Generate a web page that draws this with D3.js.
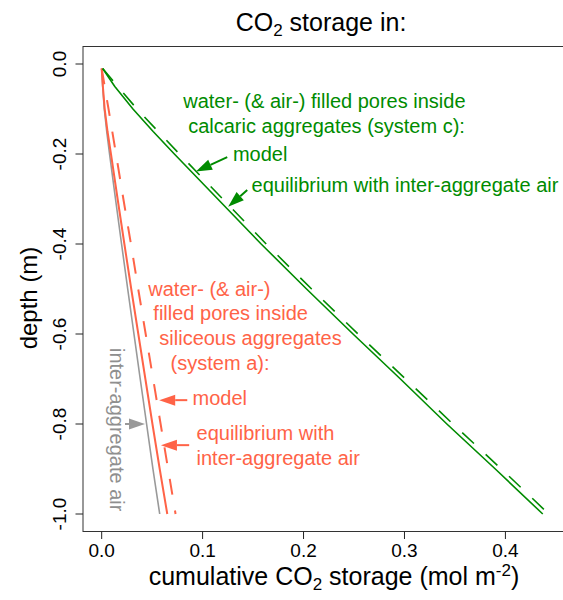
<!DOCTYPE html>
<html>
<head>
<meta charset="utf-8">
<script src="https://cdn.jsdelivr.net/npm/d3@7/dist/d3.min.js"></script>
<style>
  html, body { margin: 0; padding: 0; background: #fff; }
  svg { display: block; font-family: "Liberation Sans", Arial, Helvetica, sans-serif; }
</style>
</head>
<body>
<svg id="chart" width="563" height="600"></svg>
<script>
// ---- data ----
const depth        = [-0.01, -0.05, -0.1, -0.15, -0.2, -0.3, -0.4, -0.5, -0.6, -0.7, -0.8, -0.9, -1.0];
const calcModel    = [0.001, 0.013, 0.031, 0.051, 0.072, 0.115, 0.158, 0.203, 0.249, 0.296, 0.342, 0.390, 0.437];
const calcEquil    = [0.001, 0.016, 0.035, 0.056, 0.077, 0.120, 0.163, 0.208, 0.254, 0.301, 0.348, 0.396, 0.443];
const silModel     = [0.000, 0.0012, 0.0030, 0.0058, 0.0092, 0.0158, 0.0225, 0.0293, 0.0363, 0.0433, 0.0503, 0.0575, 0.0650];
const silEquil     = [0.000, 0.0030, 0.0068, 0.0105, 0.0142, 0.0215, 0.0290, 0.0362, 0.0436, 0.0510, 0.0584, 0.0658, 0.0732];
const interAir     = [0.000, 0.0010, 0.0026, 0.0050, 0.0078, 0.0137, 0.0197, 0.0258, 0.0320, 0.0382, 0.0445, 0.0508, 0.0575];
const xTicks       = [0.0, 0.1, 0.2, 0.3, 0.4];
const yTicks       = [0.0, -0.2, -0.4, -0.6, -0.8, -1.0];

const GREEN = "#008B00", ORANGE = "#FF6347", GRAY = "#999999";

const svg = d3.select("#chart");
const x = d3.scaleLinear().domain([-0.0185, 0.463]).range([83, 569]);
const y = d3.scaleLinear().domain([0.04, -1.04]).range([46, 532]);

// box
svg.append("rect").attr("x", 83).attr("y", 46.5).attr("width", 486).attr("height", 485)
  .attr("fill", "none").attr("stroke", "#333").attr("stroke-width", 1);

// x axis ticks
const xa = svg.append("g");
xTicks.forEach(t => {
  xa.append("line").attr("x1", x(t)).attr("x2", x(t)).attr("y1", 531.5).attr("y2", 539)
    .attr("stroke", "#222").attr("stroke-width", 1);
  xa.append("text").attr("x", x(t)).attr("y", 557).attr("text-anchor", "middle")
    .attr("font-size", 19).text(d3.format(".1f")(t));
});
// y axis ticks
const ya = svg.append("g");
yTicks.forEach(t => {
  ya.append("line").attr("x1", 83).attr("x2", 75.5).attr("y1", y(t)).attr("y2", y(t))
    .attr("stroke", "#222").attr("stroke-width", 1);
  ya.append("text").attr("transform", `translate(66,${y(t)}) rotate(-90)`)
    .attr("text-anchor", "middle").attr("font-size", 19).text(d3.format(".1f")(t).replace("−", "-"));
});

// titles
const title = svg.append("text").attr("x", 321).attr("y", 31).attr("text-anchor", "middle").attr("font-size", 25);
title.append("tspan").text("CO");
title.append("tspan").attr("font-size", 17).attr("dy", 5).text("2");
title.append("tspan").attr("dy", -5).text(" storage in:");

const xl = svg.append("text").attr("x", 334).attr("y", 585).attr("text-anchor", "middle").attr("font-size", 25);
xl.append("tspan").text("cumulative CO");
xl.append("tspan").attr("font-size", 17).attr("dy", 5).text("2");
xl.append("tspan").attr("dy", -5).text(" storage (mol m");
xl.append("tspan").attr("font-size", 17).attr("dy", -9).text("-2");
xl.append("tspan").attr("dy", 9).text(")");

svg.append("text").attr("transform", `translate(37,${y(-0.52)}) rotate(-90)`)
  .attr("text-anchor", "middle").attr("font-size", 24).text("depth (m)");

// lines
const line = vals => d3.line().x((d, i) => x(vals[i])).y(d => y(d))(depth);
function drawLine(vals, color, dashed, w) {
  svg.append("path").attr("d", line(vals)).attr("fill", "none").attr("stroke", color)
    .attr("stroke-width", w).attr("stroke-dasharray", dashed ? "16,16" : null)
    .attr("stroke-linejoin", "round");
}
drawLine(interAir, GRAY, false, 1.6);
drawLine(silModel, ORANGE, false, 2);
drawLine(silEquil, ORANGE, true, 2);
drawLine(calcModel, GREEN, false, 1.6);
drawLine(calcEquil, GREEN, true, 1.6);

// arrows (data units)
function arrow(x0, y0, x1, y1, color) {
  const X0 = x(x0), Y0 = y(y0), X1 = x(x1), Y1 = y(y1);
  const ang = Math.atan2(Y1 - Y0, X1 - X0);
  const L = 16, H = 5.5;
  const bx = X1 - L * Math.cos(ang), by = Y1 - L * Math.sin(ang);
  svg.append("line").attr("x1", X0).attr("y1", Y0).attr("x2", bx).attr("y2", by)
    .attr("stroke", color).attr("stroke-width", 2);
  const px = -Math.sin(ang) * H, py = Math.cos(ang) * H;
  svg.append("path").attr("d", `M${X1},${Y1}L${bx + px},${by + py}L${bx - px},${by - py}Z`).attr("fill", color);
}
arrow(0.1244, -0.207, 0.0934, -0.239, GREEN);
arrow(0.1442, -0.280, 0.1253, -0.317, GREEN);
arrow(0.0848, -0.747, 0.0570, -0.747, ORANGE);
arrow(0.0867, -0.847, 0.0587, -0.847, ORANGE);
arrow(0.0231, -0.800, 0.0429, -0.800, GRAY);

// annotation text
function label(lines, color) {
  lines.forEach(l => {
    svg.append("text").attr("x", x(l[1])).attr("y", y(l[2])).attr("fill", color)
      .attr("font-size", 20).text(l[0]);
  });
}
label([
  ["water- (& air-) filled pores inside", 0.0808, -0.098],
  ["calcaric aggregates (system c):", 0.0857, -0.154],
  ["model", 0.1300, -0.216],
  ["equilibrium with inter-aggregate air", 0.1485, -0.284]
], GREEN);
label([
  ["water- (& air-)", 0.0462, -0.516],
  ["filled pores inside", 0.0512, -0.569],
  ["siliceous aggregates", 0.0571, -0.624],
  ["(system a):", 0.0683, -0.680],
  ["model", 0.0900, -0.758],
  ["equilibrium with", 0.0940, -0.836],
  ["inter-aggregate air", 0.0940, -0.891]
], ORANGE);

svg.append("text").attr("transform", `translate(${x(0.0080)},${y(-0.631)}) rotate(90)`)
  .attr("fill", "#8f8f8f").attr("font-size", 20).text("inter-aggregate air");
</script>
</body>
</html>
